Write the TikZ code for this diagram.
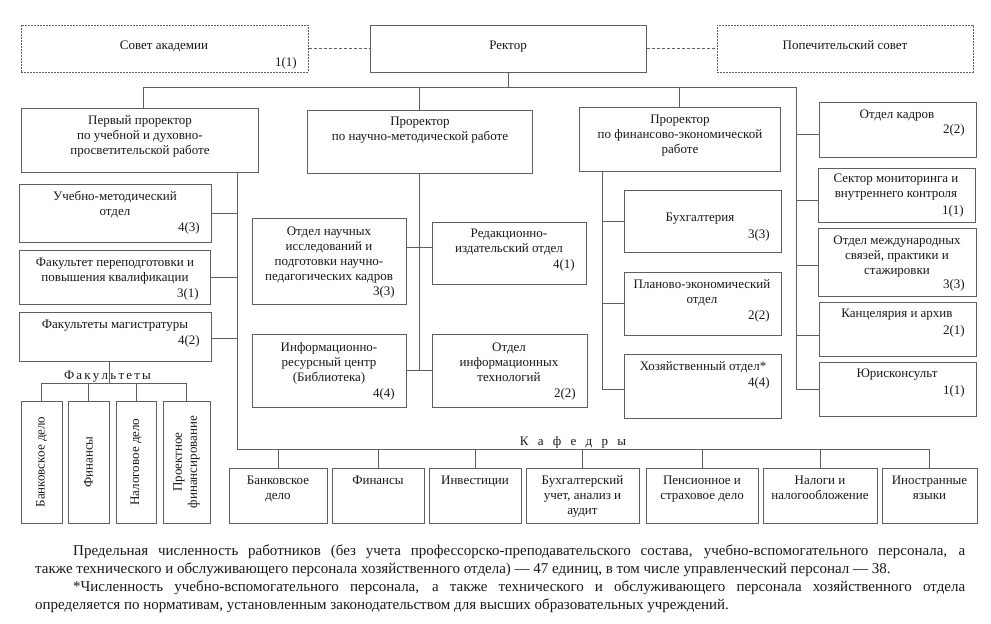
\documentclass[tikz,border=0pt]{standalone}
\usepackage{fontspec}
\setmainfont{Liberation Serif}
\usetikzlibrary{fit}
\definecolor{linec}{RGB}{95,95,95}
\definecolor{textc}{RGB}{25,25,25}
\newcommand\bx[6][]{\node[box,#1,fit={(#3,#4) (#5,#6)}] (#2) {};}
\begin{document}
\begin{tikzpicture}[x=1pt,y=-1pt,
  ln/.style={draw=linec, line width=1pt},
  box/.style={draw=linec, line width=1pt, inner sep=0pt},
  dotbox/.style={box, dash pattern=on 1.6pt off 1.4pt},
  dashln/.style={ln, dash pattern=on 3pt off 2pt},
  txt/.style={inner sep=0pt, align=center, font=\fontsize{13}{15}\selectfont, text=textc},
  num/.style={inner sep=0pt, anchor=base east, font=\fontsize{13}{15}\selectfont, text=textc},
  note/.style={inner sep=0pt, anchor=base west, font=\fontsize{15}{18}\selectfont, text=textc}]
\useasboundingbox (0,0) rectangle (991,624);
\fill[white] (0,0) rectangle (991,624);

% top row
\bx[dotbox]{sovet}{21}{25}{308}{72}
\bx{rector}{370}{25}{646}{72}
\bx[dotbox]{popech}{717}{25}{973}{72}
\node[txt,anchor=base] (sovet-t) at (164,49) {Совет академии};
\node[num] (sovet-n) at (297,66) {1(1)};
\node[txt,anchor=base] (rector-t) at (508,49) {Ректор};
\node[txt,anchor=base] (popech-t) at (845,49) {Попечительский совет};

% prorectors (anchor=base is the last line's baseline)
\bx{pr1}{21}{108}{258}{172}
\node[txt,anchor=base] (pr1-t) at (140,154) {Первый проректор\\по учебной и духовно-\\просветительской работе};
\bx{pr2}{307}{110}{532}{173}
\node[txt,anchor=base] (pr2-t) at (420,140) {Проректор\\по научно-методической работе};
\bx{pr3}{579}{107}{780}{171}
\node[txt,anchor=base] (pr3-t) at (680,153) {Проректор\\по финансово-экономической\\работе};
\bx{kadr}{819}{102}{976}{157}
\node[txt,anchor=base] (kadr-t) at (897,118) {Отдел кадров};
\node[num] (kadr-n) at (965,133) {2(2)};

% left column
\bx{umo}{19}{184}{211}{242}
\node[txt,anchor=base] (umo-t) at (115,215) {Учебно-методический\\отдел};
\node[num] (umo-n) at (200,231) {4(3)};
\bx{fpk}{19}{250}{210}{304}
\node[txt,anchor=base] (fpk-t) at (115,281) {Факультет переподготовки и\\повышения квалификации};
\node[num] (fpk-n) at (199,297) {3(1)};
\bx{mag}{19}{312}{211}{361}
\node[txt,anchor=base] (mag-t) at (115,328) {Факультеты магистратуры};
\node[num] (mag-n) at (200,344) {4(2)};

% faculties
\bx{fa1}{21}{401}{62}{523}
\bx{fa2}{68}{401}{109}{523}
\bx{fa3}{116}{401}{156}{523}
\bx{fa4}{163}{401}{210}{523}
\node[txt,rotate=90] (fa1-t) at (fa1.center) {Банковское дело};
\node[txt,rotate=90] (fa2-t) at (fa2.center) {Финансы};
\node[txt,rotate=90] (fa3-t) at (fa3.center) {Налоговое дело};
\node[txt,rotate=90] (fa4-t) at (fa4.center) {Проектное\\финансирование};
\node[txt,anchor=base] (fac-l) at (107.5,379) {Ф\hspace{2.2pt}а\hspace{2.2pt}к\hspace{2.2pt}у\hspace{2.2pt}л\hspace{2.2pt}ь\hspace{2.2pt}т\hspace{2.2pt}е\hspace{2.2pt}т\hspace{2.2pt}ы};

% middle column
\bx{oni}{252}{218}{406}{304}
\node[txt,anchor=base] (oni-t) at (329,280) {Отдел научных\\исследований и\\подготовки научно-\\педагогических кадров};
\node[num] (oni-n) at (395,295) {3(3)};
\bx{red}{432}{222}{586}{284}
\node[txt,anchor=base] (red-t) at (509,252) {Редакционно-\\издательский отдел};
\node[num] (red-n) at (575,268) {4(1)};
\bx{ris}{252}{334}{406}{407}
\node[txt,anchor=base] (ris-t) at (329,381) {Информационно-\\ресурсный центр\\(Библиотека)};
\node[num] (ris-n) at (395,397) {4(4)};
\bx{it}{432}{334}{587}{407}
\node[txt,anchor=base] (it-t) at (509,381) {Отдел\\информационных\\технологий};
\node[num] (it-n) at (576,397) {2(2)};

% financial column
\bx{buh}{624}{190}{781}{252}
\node[txt,anchor=base] (buh-t) at (700,221) {Бухгалтерия};
\node[num] (buh-n) at (770,238) {3(3)};
\bx{plan}{624}{272}{781}{335}
\node[txt,anchor=base] (plan-t) at (702,303) {Планово-экономический\\отдел};
\node[num] (plan-n) at (770,319) {2(2)};
\bx{hoz}{624}{354}{781}{418}
\node[txt,anchor=base] (hoz-t) at (703,370) {Хозяйственный отдел*};
\node[num] (hoz-n) at (770,386) {4(4)};

% right column
\bx{sect}{818}{168}{975}{222}
\node[txt,anchor=base] (sect-t) at (896,197) {Сектор мониторинга и\\внутреннего контроля};
\node[num] (sect-n) at (964,214) {1(1)};
\bx{intl}{818}{228}{976}{296}
\node[txt,anchor=base] (intl-t) at (897,274) {Отдел международных\\связей, практики и\\стажировки};
\node[num] (intl-n) at (965,288) {3(3)};
\bx{kanc}{819}{302}{976}{356}
\node[txt,anchor=base] (kanc-t) at (897,317) {Канцелярия и архив};
\node[num] (kanc-n) at (965,334) {2(1)};
\bx{jur}{819}{362}{976}{416}
\node[txt,anchor=base] (jur-t) at (897,377) {Юрисконсульт};
\node[num] (jur-n) at (965,394) {1(1)};

% departments (kafedry)
\bx{k1}{229}{468}{327}{523}
\bx{k2}{332}{468}{424}{523}
\bx{k3}{429}{468}{521}{523}
\bx{k4}{526}{468}{639}{523}
\bx{k5}{646}{468}{758}{523}
\bx{k6}{763}{468}{877}{523}
\bx{k7}{882}{468}{977}{523}
\node[txt,anchor=base] (k1-t) at (278,499) {Банковское\\дело};
\node[txt,anchor=base] (k2-t) at (378,484) {Финансы};
\node[txt,anchor=base] (k3-t) at (475,484) {Инвестиции};
\node[txt,anchor=base] (k4-t) at (582.5,514) {Бухгалтерский\\учет, анализ и\\аудит};
\node[txt,anchor=base] (k5-t) at (702,499) {Пенсионное и\\страховое дело};
\node[txt,anchor=base] (k6-t) at (820,499) {Налоги и\\налогообложение};
\node[txt,anchor=base] (k7-t) at (929.5,499) {Иностранные\\языки};
\node[txt,anchor=base] (kaf-l) at (573,445) {К\hspace{9.3pt}а\hspace{9.3pt}ф\hspace{9.3pt}е\hspace{9.3pt}д\hspace{9.3pt}р\hspace{9.3pt}ы};

% connectors
\draw[dashln] (sovet.east) -- (rector.west);
\draw[dashln] (rector.east) -- (popech.west);
\coordinate (busL) at (143,87);
\coordinate (busR) at (796,87);
\draw[ln] (rector.south) -- (rector.south |- busL);
\draw[ln] (pr1.north -| busL) -- (busL) -- (busR) -- (busR |- jur.west);
\draw[ln] (pr2.north |- busL) -- (pr2.north);
\draw[ln] (pr3.north |- busL) -- (pr3.north);
\draw[ln] (busR |- kadr.west) ++(0,4.5) -- ([yshift=-4.5pt]kadr.west);
\draw[ln] (busR |- sect.west) ++(0,5) -- ([yshift=-5pt]sect.west);
\draw[ln] (busR |- intl.west) ++(0,3) -- ([yshift=-3pt]intl.west);
\draw[ln] (busR |- kanc.west) ++(0,6) -- ([yshift=-6pt]kanc.west);
\draw[ln] (busR |- jur.west) -- (jur.west);

% first prorector branch
\coordinate (kL) at (237,449);
\coordinate (kR) at (930,449);
\draw[ln] (pr1.south -| kL) -- (kL) -- (kR);
\draw[ln] (umo.east) -- (umo.east -| kL);
\draw[ln] (fpk.east) -- (fpk.east -| kL);
\draw[ln] ([yshift=-1.5pt]mag.east) -- ([yshift=-1.5pt]mag.east -| kL);
\foreach \k in {k1,k2,k3,k4,k5,k6,k7} \draw[ln] (\k.north |- kL) -- (\k.north);

% faculties branch
\coordinate (fb) at (109,383);
\draw[ln] (mag.south -| fb) -- (fb);
\draw[ln] (fa1.north |- fb) -- (fa4.north |- fb);
\foreach \f in {fa1,fa2,fa3,fa4} \draw[ln] (\f.north |- fb) -- (\f.north);

% science branch
\coordinate (m1) at (420,247);
\draw[ln] (pr2.south) -- (pr2.south |- ris.east);
\draw[ln] (oni.east |- m1) -- (red.west |- m1);
\draw[ln] (ris.east) -- (it.west);

% finance branch
\coordinate (fv) at (602,389);
\draw[ln] (pr3.south -| fv) -- (fv) -- (fv -| hoz.west);
\draw[ln] (buh.west -| fv) -- (buh.west);
\draw[ln] (plan.west -| fv) -- (plan.west);

% notes
\node[note] (note1) at (73,555) {\makebox[892pt][s]{Предельная численность работников (без учета профессорско-преподавательского состава, учебно-вспомогательного персонала, а}};
\node[note] (note2) at (35,573) {также технического и обслуживающего персонала хозяйственного отдела) — 47 единиц, в том числе управленческий персонал — 38.};
\node[note] (note3) at (73,591) {\makebox[892pt][s]{*Численность учебно-вспомогательного персонала, а также технического и обслуживающего персонала хозяйственного отдела}};
\node[note] (note4) at (35,609) {определяется по нормативам, установленным законодательством для высших образовательных учреждений.};
\end{tikzpicture}
\end{document}
